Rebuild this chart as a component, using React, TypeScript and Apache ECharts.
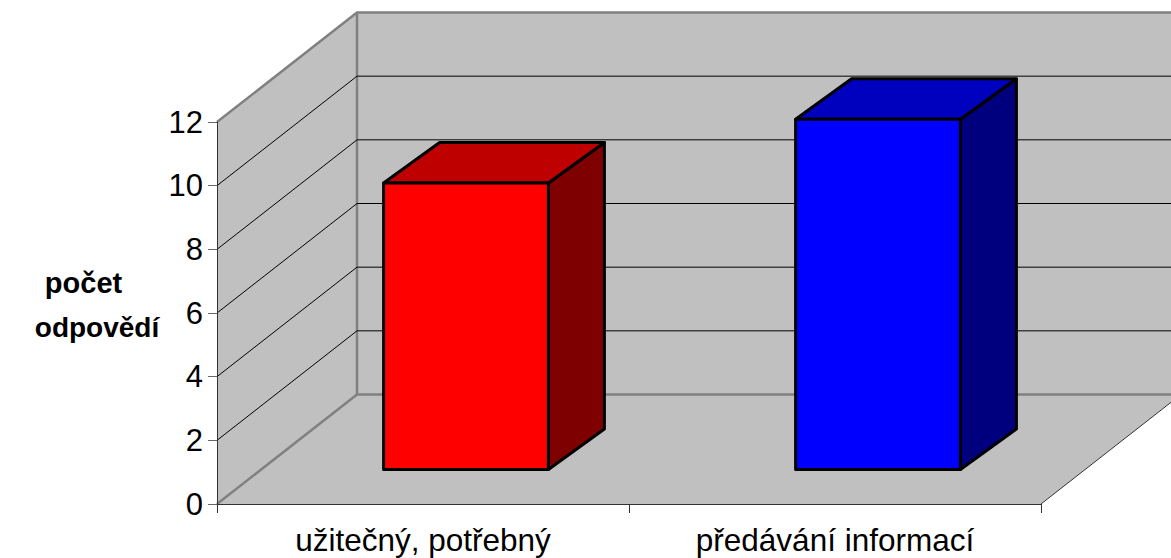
import React, { useEffect, useRef } from "react";
import * as echarts from "echarts";

const categories = ["užitečný, potřebný", "předávání informací"];
const values = [9, 11];
const yTicks = [2, 4, 6, 8, 10];
const yMax = 12;
const yInterval = 2;
const axisTitleLines = ["počet", "odpovědí"];
const frontColors = ["#ff0000", "#0000ff"];
const topColors = ["#bf0000", "#0000bf"];
const sideColors = ["#7f0000", "#00007f"];

const WALL = "#c0c0c0";
const EDGE = "#808080";
const FONT = '"Liberation Sans", Arial, sans-serif';
// Oblique projection of the depth axis, in pixels
const DEPTH_X = 140;
const DEPTH_Y = -109.5;
const BAR_SHIFT_X = 43; // offset of the bars' front from the front plane
const BAR_SHIFT_Y = -34.5;
const BAR_DEPTH_X = 56;
const BAR_DEPTH_Y = -40.5;
const BAR_WIDTH = 0.4; // fraction of a category band

const renderWalls = (params: any, api: any) => {
  const cs = params.coordSys;
  const L = cs.x;
  const R = cs.x + cs.width;
  const T = api.coord([0, yMax])[1];
  const B = api.coord([0, 0])[1];
  const dx = DEPTH_X;
  const dy = DEPTH_Y;
  const edge = { stroke: EDGE, lineWidth: 2.5, fill: "none" };
  return {
    type: "group",
    children: [
      { type: "polygon", shape: { points: [[L + dx, T + dy], [R + dx, T + dy], [R + dx, B + dy], [L + dx, B + dy]] }, style: { fill: WALL } },
      { type: "polygon", shape: { points: [[L, T], [L + dx, T + dy], [L + dx, B + dy], [L, B]] }, style: { fill: WALL } },
      { type: "polygon", shape: { points: [[L, B], [R, B], [R + dx, B + dy], [L + dx, B + dy]] }, style: { fill: WALL } },
      { type: "line", shape: { x1: R, y1: B, x2: R + dx, y2: B + dy }, style: { stroke: "#333333", lineWidth: 1 } },
      { type: "polyline", shape: { points: [[L, T], [L + dx, T + dy], [R + dx, T + dy]] }, style: edge },
      { type: "polyline", shape: { points: [[L, B], [L + dx, B + dy], [R + dx, B + dy]] }, style: edge },
      { type: "line", shape: { x1: L + dx, y1: T + dy, x2: L + dx, y2: B + dy }, style: { stroke: EDGE, lineWidth: 2.5 } },
    ],
  };
};

const renderGrid = (params: any, api: any) => {
  const cs = params.coordSys;
  const y = api.coord([0, api.value(1)])[1];
  return {
    type: "polyline",
    shape: {
      points: [
        [cs.x, y],
        [cs.x + DEPTH_X, y + DEPTH_Y],
        [cs.x + cs.width + DEPTH_X, y + DEPTH_Y],
      ],
    },
    style: { stroke: "#000000", lineWidth: 1, fill: "none" },
  };
};

const renderBar = (params: any, api: any) => {
  const i = api.value(0);
  const [cx, yTop] = api.coord([i, api.value(1)]);
  const yBase = api.coord([i, 0])[1];
  const w = api.size([1, 0])[0] * BAR_WIDTH;
  const x0 = cx - w / 2 + BAR_SHIFT_X;
  const x1 = cx + w / 2 + BAR_SHIFT_X;
  const y0 = yTop + BAR_SHIFT_Y;
  const y1 = yBase + BAR_SHIFT_Y;
  const ox = BAR_DEPTH_X;
  const oy = BAR_DEPTH_Y;
  const stroke = { stroke: "#000000", lineWidth: 3, lineJoin: "round" };
  return {
    type: "group",
    children: [
      { type: "polygon", shape: { points: [[x1, y0], [x1 + ox, y0 + oy], [x1 + ox, y1 + oy], [x1, y1]] }, style: { fill: sideColors[i], ...stroke } },
      { type: "polygon", shape: { points: [[x0, y0], [x0 + ox, y0 + oy], [x1 + ox, y0 + oy], [x1, y0]] }, style: { fill: topColors[i], ...stroke } },
      { type: "polygon", shape: { points: [[x0, y0], [x1, y0], [x1, y1], [x0, y1]] }, style: { fill: frontColors[i], ...stroke } },
    ],
  };
};

export default function App() {
  const ref = useRef<HTMLDivElement>(null);
  useEffect(() => {
    const chart = echarts.init(ref.current!, null, { renderer: "svg" });
    chart.setOption({
      animation: false,
      backgroundColor: "#ffffff",
      grid: { left: 217, right: 130, top: 122, bottom: 54, containLabel: false },
      xAxis: {
        type: "category",
        data: categories,
        z: 10,
        axisLine: { show: true, lineStyle: { color: "#333333", width: 1 } },
        axisTick: { show: true, length: 9, lineStyle: { color: "#333333", width: 1 } },
        axisLabel: { fontFamily: FONT, fontSize: 31.5, color: "#000000", margin: 20 },
      },
      yAxis: {
        type: "value",
        min: 0,
        max: yMax,
        interval: yInterval,
        z: 10,
        axisLine: { show: true, lineStyle: { color: "#333333", width: 1 } },
        axisTick: { show: true, length: 9, lineStyle: { color: "#666666", width: 1 } },
        axisLabel: { fontFamily: FONT, fontSize: 31, color: "#000000", margin: 14 },
        splitLine: { show: false },
      },
      graphic: [
        {
          type: "text",
          x: 83.5,
          y: 283,
          style: { text: axisTitleLines[0], fontFamily: FONT, fontSize: 29, fontWeight: "bold", fill: "#000000", align: "center", verticalAlign: "middle" },
        },
        {
          type: "text",
          x: 97,
          y: 327,
          style: { text: axisTitleLines[1], fontFamily: FONT, fontSize: 28, fontWeight: "bold", fill: "#000000", align: "center", verticalAlign: "middle" },
        },
      ],
      series: [
        { type: "custom", renderItem: renderWalls, data: [[0, 0]], silent: true },
        { type: "custom", renderItem: renderGrid, data: yTicks.map((t) => [0, t]), silent: true },
        { type: "custom", renderItem: renderBar, data: values.map((v, i) => [i, v]) },
      ],
    });
    return () => chart.dispose();
  }, []);
  return <div ref={ref} style={{ position: "fixed", left: 0, top: 0, width: 1171, height: 558 }} />;
}
